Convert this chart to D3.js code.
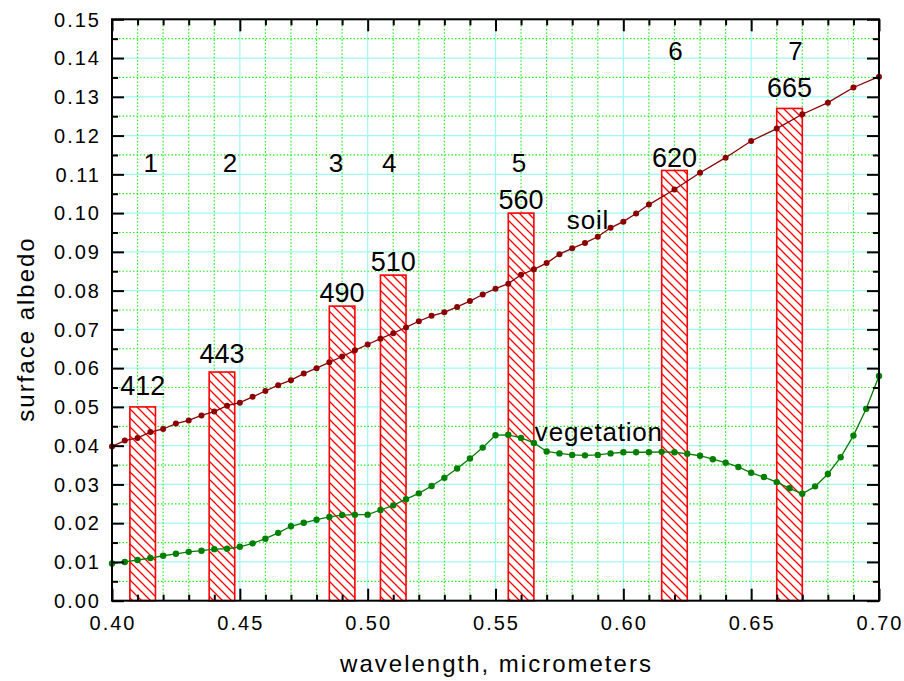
<!DOCTYPE html>
<html>
<head>
<meta charset="utf-8">
<script src="https://cdn.jsdelivr.net/npm/d3@7"></script>
<style>
  html, body { margin: 0; padding: 0; background: #fff; }
  svg { display: block; }
  text { font-family: "Liberation Sans", Arial, Helvetica, sans-serif; fill: #000; }
</style>
</head>
<body>
<svg id="chart" width="904" height="681"></svg>
<script>
// Spectral samples (micrometers)
const soilWavelength = [
  0.400, 0.405, 0.410, 0.415, 0.420, 0.425, 0.430, 0.435, 0.440, 0.445,
  0.450, 0.455, 0.460, 0.465, 0.470, 0.475, 0.480, 0.485, 0.490, 0.495,
  0.500, 0.505, 0.510, 0.515, 0.520, 0.525, 0.530, 0.535, 0.540, 0.545,
  0.550, 0.555, 0.560, 0.565, 0.570, 0.575, 0.580, 0.585, 0.590, 0.595,
  0.600, 0.605, 0.610, 0.620, 0.630, 0.640, 0.650, 0.660, 0.670, 0.680,
  0.690, 0.700
];
const soilAlbedo = [
  0.0398, 0.0413, 0.0420, 0.0435, 0.0443, 0.0457, 0.0465, 0.0478, 0.0488, 0.0503,
  0.0511, 0.0526, 0.0541, 0.0556, 0.0569, 0.0586, 0.0600, 0.0615, 0.0630, 0.0646,
  0.0661, 0.0676, 0.0690, 0.0705, 0.0721, 0.0735, 0.0744, 0.0758, 0.0773, 0.0790,
  0.0805, 0.0818, 0.0841, 0.0855, 0.0871, 0.0894, 0.0909, 0.0923, 0.0939, 0.0962,
  0.0978, 0.0999, 0.1022, 0.1061, 0.1104, 0.1143, 0.1186, 0.1218, 0.1255, 0.1285,
  0.1324, 0.1352
];

const vegWavelength = [
  0.400, 0.405, 0.410, 0.415, 0.420, 0.425, 0.430, 0.435, 0.440, 0.445,
  0.450, 0.455, 0.460, 0.465, 0.470, 0.475, 0.480, 0.485, 0.490, 0.495,
  0.500, 0.505, 0.510, 0.515, 0.520, 0.525, 0.530, 0.535, 0.540, 0.545,
  0.550, 0.555, 0.560, 0.565, 0.570, 0.575, 0.580, 0.585, 0.590, 0.595,
  0.600, 0.605, 0.610, 0.615, 0.620, 0.625, 0.630, 0.635, 0.640, 0.645,
  0.650, 0.655, 0.660, 0.665, 0.670, 0.675, 0.680, 0.685, 0.690, 0.695,
  0.700
];
const vegAlbedo = [
  0.0096, 0.0100, 0.0105, 0.0110, 0.0116, 0.0121, 0.0126, 0.0129, 0.0133, 0.0134,
  0.0139, 0.0148, 0.0160, 0.0175, 0.0192, 0.0201, 0.0209, 0.0216, 0.0221, 0.0222,
  0.0222, 0.0234, 0.0246, 0.0262, 0.0277, 0.0296, 0.0317, 0.0341, 0.0367, 0.0395,
  0.0427, 0.0428, 0.0420, 0.0407, 0.0385, 0.0380, 0.0376, 0.0375, 0.0376, 0.0380,
  0.0383, 0.0383, 0.0383, 0.0384, 0.0383, 0.0379, 0.0374, 0.0365, 0.0356, 0.0345,
  0.0330, 0.0319, 0.0306, 0.0290, 0.0276, 0.0295, 0.0327, 0.0370, 0.0426, 0.0495,
  0.0580
];

// Sensor bands: centre wavelength, reflectance level, labels
const bandCenter = [0.412, 0.443, 0.490, 0.510, 0.560, 0.620, 0.665];
const bandValue  = [0.050, 0.059, 0.076, 0.084, 0.100, 0.111, 0.127];
const bandLabel  = ["412", "443", "490", "510", "560", "620", "665"];
const bandNumber = ["1", "2", "3", "4", "5", "6", "7"];
const bandWidth  = 0.010;

// Axis ticks
const xTicks = [0.40, 0.45, 0.50, 0.55, 0.60, 0.65, 0.70];
const yTicks = [0.00, 0.01, 0.02, 0.03, 0.04, 0.05, 0.06, 0.07, 0.08,
                0.09, 0.10, 0.11, 0.12, 0.13, 0.14, 0.15];

const xTitle = "wavelength, micrometers";
const yTitle = "surface albedo";

// ---------------------------------------------------------------
const svg = d3.select("#chart");
const W = 904, H = 681;
const margin = { top: 19.3, right: 25, bottom: 80.3, left: 112 };

const x = d3.scaleLinear().domain([0.40, 0.70]).range([margin.left, W - margin.right]);
const y = d3.scaleLinear().domain([0, 0.15]).range([H - margin.bottom, margin.top]);

const x0 = x.range()[0], x1 = x.range()[1];
const y0 = y.range()[0], y1 = y.range()[1];

const xMinor = d3.range(0.40, 0.7001, 0.01).filter(v => Math.abs(v * 20 - Math.round(v * 20)) > 1e-6);
const yMinor = d3.range(0.005, 0.15, 0.01);

// hatch pattern for the band bars
const defs = svg.append("defs");
defs.append("pattern")
  .attr("id", "hatch")
  .attr("patternUnits", "userSpaceOnUse")
  .attr("width", 9).attr("height", 9)
  .append("path")
  .attr("d", "M-2,-2 L11,11 M-2,7 L2,11 M7,-2 L11,2")
  .attr("stroke", "#ff0000")
  .attr("stroke-width", 1.3)
  .attr("fill", "none");

// grid
const grid = svg.append("g").attr("class", "grid");
grid.selectAll("line.ymaj").data(yTicks).join("line")
  .attr("x1", x0).attr("x2", x1)
  .attr("y1", d => y(d)).attr("y2", d => y(d))
  .attr("stroke", "#9ff7f7").attr("stroke-width", 1.2);
grid.selectAll("line.xmaj").data(xTicks).join("line")
  .attr("y1", y0).attr("y2", y1)
  .attr("x1", d => x(d)).attr("x2", d => x(d))
  .attr("stroke", "#9ff7f7").attr("stroke-width", 1.2);
grid.append("g").selectAll("line").data(yMinor).join("line")
  .attr("x1", x0).attr("x2", x1)
  .attr("y1", d => y(d)).attr("y2", d => y(d))
  .attr("stroke", "#22ee22").attr("stroke-width", 1.2)
  .attr("stroke-dasharray", "1.5,2");
grid.append("g").selectAll("line").data(xMinor).join("line")
  .attr("y1", y0).attr("y2", y1)
  .attr("x1", d => x(d)).attr("x2", d => x(d))
  .attr("stroke", "#22ee22").attr("stroke-width", 1.2)
  .attr("stroke-dasharray", "1.5,2");

// band bars
const bands = bandCenter.map((c, i) => ({ c, v: bandValue[i], label: bandLabel[i], num: bandNumber[i] }));
const barG = svg.append("g");
barG.selectAll("rect.bg").data(bands).join("rect")
  .attr("x", d => x(d.c - bandWidth / 2))
  .attr("width", d => x(d.c + bandWidth / 2) - x(d.c - bandWidth / 2))
  .attr("y", d => y(d.v))
  .attr("height", d => y(0) - y(d.v))
  .attr("fill", "#fff");
barG.selectAll("rect.fg").data(bands).join("rect")
  .attr("x", d => x(d.c - bandWidth / 2))
  .attr("width", d => x(d.c + bandWidth / 2) - x(d.c - bandWidth / 2))
  .attr("y", d => y(d.v))
  .attr("height", d => y(0) - y(d.v))
  .attr("fill", "url(#hatch)")
  .attr("stroke", "#ff0000")
  .attr("stroke-width", 1.6);

// spectra
function drawSpectrum(xs, ys, color, r) {
  const pts = xs.map((w, i) => [w, ys[i]]);
  const g = svg.append("g");
  g.append("path")
    .datum(pts)
    .attr("fill", "none")
    .attr("stroke", color)
    .attr("stroke-width", 1.3)
    .attr("d", d3.line().x(d => x(d[0])).y(d => y(d[1])));
  g.selectAll("circle").data(pts).join("circle")
    .attr("cx", d => x(d[0])).attr("cy", d => y(d[1]))
    .attr("r", r).attr("fill", color);
}
drawSpectrum(soilWavelength, soilAlbedo, "#8b0000", 3);
drawSpectrum(vegWavelength, vegAlbedo, "#007f00", 3.2);

// band wavelength labels just above each bar
const labelLift = [12, 9, 4, 4, 4, 3, 11];
svg.append("g").selectAll("text").data(bands).join("text")
  .attr("x", d => x(d.c))
  .attr("y", (d, i) => y(d.v) - labelLift[i])
  .attr("text-anchor", "middle")
  .style("font-size", "27px")
  .text(d => d.label);

// band numbers in two rows
const numShift = [8, 8, -6, -4, -2, 1, 6];
svg.append("g").selectAll("text").data(bands).join("text")
  .attr("x", (d, i) => x(d.c) + numShift[i])
  .attr("y", d => d.v > 0.105 ? y(0.1395) : y(0.1105))
  .attr("text-anchor", "middle")
  .style("font-size", "26px")
  .text(d => d.num);

// curve names
svg.append("text")
  .attr("x", x(0.5779)).attr("y", y(0.0960))
  .style("font-size", "26px").style("letter-spacing", "0.8px")
  .text("soil");
svg.append("text")
  .attr("x", x(0.5654)).attr("y", y(0.0411))
  .style("font-size", "26px").style("letter-spacing", "0.8px")
  .text("vegetation");

// axes: ticks pointing into the plot on all four sides
const fmt = d3.format(".2f");
function styleAxis(g) {
  g.select(".domain").remove();
  g.selectAll(".tick line").attr("stroke", "#000").attr("stroke-width", 2);
}
svg.append("g").attr("transform", `translate(${x0},0)`)
  .call(d3.axisLeft(y).tickValues(yTicks).tickSizeInner(-12).tickSizeOuter(0).tickPadding(25).tickFormat(fmt))
  .call(styleAxis)
  .call(g => g.selectAll(".tick text").remove());
svg.append("g").attr("transform", `translate(${x0},0)`)
  .call(d3.axisLeft(y).tickValues(yMinor).tickSizeInner(-6).tickSizeOuter(0).tickFormat(""))
  .call(styleAxis);
svg.append("g").attr("transform", `translate(${x1},0)`)
  .call(d3.axisRight(y).tickValues(yTicks).tickSizeInner(-12).tickSizeOuter(0).tickFormat(""))
  .call(styleAxis);
svg.append("g").attr("transform", `translate(${x1},0)`)
  .call(d3.axisRight(y).tickValues(yMinor).tickSizeInner(-6).tickSizeOuter(0).tickFormat(""))
  .call(styleAxis);
svg.append("g").attr("transform", `translate(0,${y0})`)
  .call(d3.axisBottom(x).tickValues(xTicks).tickSizeInner(-12).tickSizeOuter(0).tickFormat(""))
  .call(styleAxis);
svg.append("g").attr("transform", `translate(0,${y0})`)
  .call(d3.axisBottom(x).tickValues(xMinor).tickSizeInner(-6).tickSizeOuter(0).tickFormat(""))
  .call(styleAxis);
svg.append("g").attr("transform", `translate(0,${y1})`)
  .call(d3.axisTop(x).tickValues(xTicks).tickSizeInner(-12).tickSizeOuter(0).tickFormat(""))
  .call(styleAxis);
svg.append("g").attr("transform", `translate(0,${y1})`)
  .call(d3.axisTop(x).tickValues(xMinor).tickSizeInner(-6).tickSizeOuter(0).tickFormat(""))
  .call(styleAxis);

// tick labels
svg.append("g").selectAll("text").data(yTicks).join("text")
  .attr("x", x0 - 11)
  .attr("y", d => y(d) + 7.2)
  .attr("text-anchor", "end")
  .style("font-size", "20px").style("letter-spacing", "2px")
  .text(fmt);
svg.append("g").selectAll("text").data(xTicks).join("text")
  .attr("x", d => x(d) + 1)
  .attr("y", y0 + 29)
  .attr("text-anchor", "middle")
  .style("font-size", "20px").style("letter-spacing", "2px")
  .text(fmt);

// frame
svg.append("rect")
  .attr("x", x0).attr("y", y1)
  .attr("width", x1 - x0).attr("height", y0 - y1)
  .attr("fill", "none").attr("stroke", "#000").attr("stroke-width", 2);

// axis titles
svg.append("text")
  .attr("x", (x0 + x1) / 2 + 1).attr("y", 672)
  .attr("text-anchor", "middle")
  .style("font-size", "24px").style("letter-spacing", "2px")
  .text(xTitle);
svg.append("text")
  .attr("transform", `translate(34,${329}) rotate(-90)`)
  .attr("text-anchor", "middle")
  .style("font-size", "24px").style("letter-spacing", "2px")
  .text(yTitle);
</script>
</body>
</html>
